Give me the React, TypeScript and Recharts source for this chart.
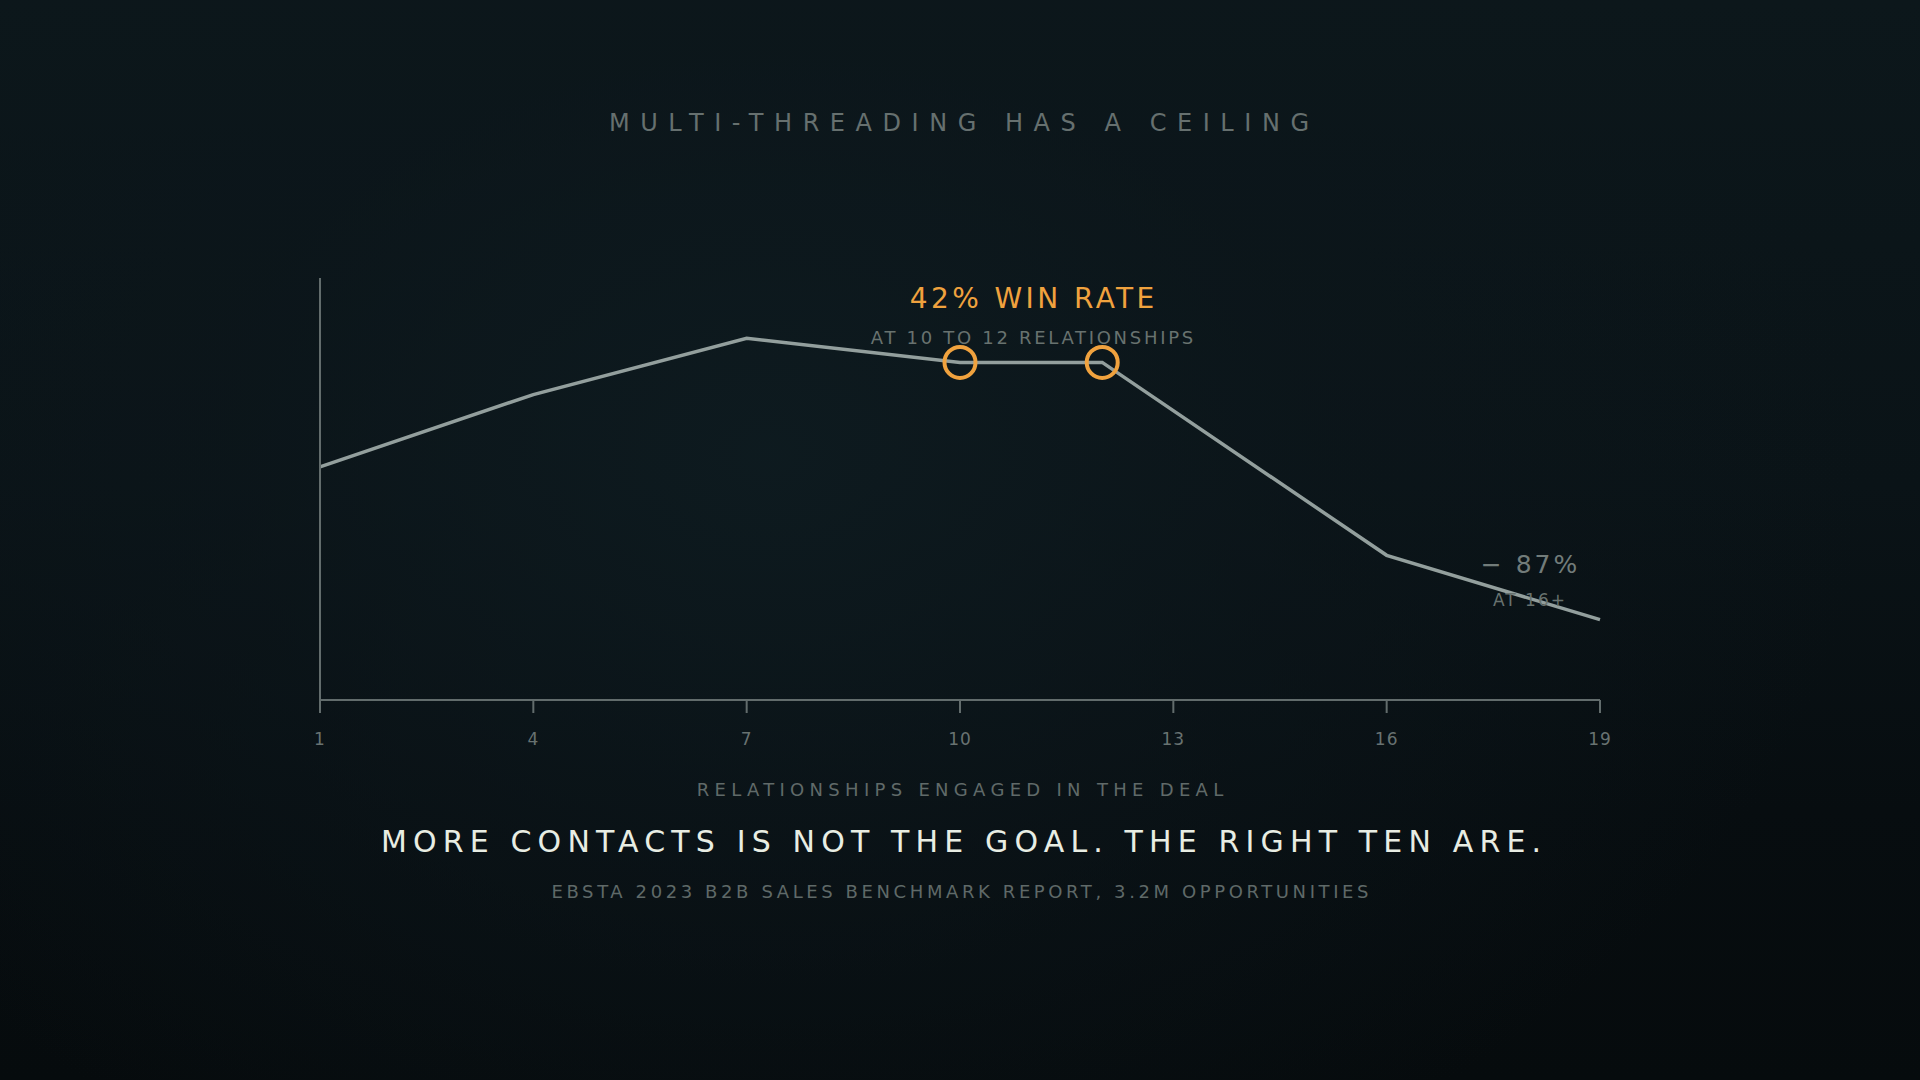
import React from "react";
import { LineChart, Line, XAxis, YAxis, ReferenceDot } from "recharts";

// win rate (%) by number of relationships engaged in the deal
const RELATIONSHIPS = [1, 4, 7, 10, 12, 16, 19];
const WIN_RATE = [29, 38, 45, 42, 42, 18, 10];
const X_TICKS = [1, 4, 7, 10, 13, 16, 19];
const HIGHLIGHT = [10, 12];

const W = 1920;
const H = 1080;
const FONT = "'DejaVu Sans', sans-serif";

const C = {
  line: "#939f9d",
  axis: "#626c6c",
  tick: "#687271",
  muted: "#68726f",
  orange: "#f0a23e",
  cream: "#e8ede3",
};

const data = RELATIONSHIPS.map((x, i) => ({ x, rate: WIN_RATE[i] }));

// centred text, nudged so trailing letter-spacing doesn't push it off-centre
function T({ x, y, size, spacing, fill, children }: any) {
  return (
    <text
      x={x + spacing / 2}
      y={y}
      textAnchor="middle"
      fontFamily={FONT}
      fontSize={size}
      letterSpacing={spacing}
      fill={fill}
    >
      {children}
    </text>
  );
}

export default function App() {
  return (
    <div
      style={{
        position: "absolute",
        left: 0,
        top: 0,
        width: W,
        height: H,
        overflow: "hidden",
        background:
          "radial-gradient(ellipse 1100px 800px at 40% 42%, rgba(14,27,32,0.9) 0%, rgba(12,22,27,0.6) 50%, rgba(8,14,17,0) 100%), linear-gradient(180deg, #0c171b 0%, #0a1317 45%, #070d10 75%, #060b0d 100%)",
      }}
    >
      <LineChart
        width={W}
        height={H}
        data={data}
        margin={{ top: 278, right: 320, bottom: 320, left: 318 }}
      >
        <XAxis
          dataKey="x"
          type="number"
          domain={[1, 19]}
          ticks={X_TICKS}
          height={60}
          stroke={C.axis}
          strokeWidth={2}
          tickSize={13}
          tickMargin={20}
          tick={{ fill: C.tick, fontSize: 17, fontFamily: FONT, letterSpacing: 1 }}
        />
        <YAxis
          width={2}
          domain={[0, 52.5]}
          tick={false}
          tickLine={false}
          axisLine={{ stroke: C.axis, strokeWidth: 2 }}
        />
        <Line
          type="linear"
          dataKey="rate"
          stroke={C.line}
          strokeWidth={3.5}
          dot={false}
          activeDot={false}
          isAnimationActive={false}
        />
        {HIGHLIGHT.map((h) => (
          <ReferenceDot
            key={h}
            x={h}
            y={WIN_RATE[RELATIONSHIPS.indexOf(h)]}
            r={15.5}
            fill="none"
            stroke={C.orange}
            strokeWidth={4}
          />
        ))}
      </LineChart>

      <svg
        width={W}
        height={H}
        style={{ position: "absolute", left: 0, top: 0, pointerEvents: "none" }}
      >
        <T x={959} y={131} size={24} spacing={10.55} fill="#66706f">
          MULTI-THREADING HAS A CEILING
        </T>

        <T x={1032} y={308} size={28} spacing={3.4} fill={C.orange}>
          42% WIN RATE
        </T>
        <T x={1032} y={344} size={18} spacing={2.7} fill={C.muted}>
          AT 10 TO 12 RELATIONSHIPS
        </T>

        <T x={1529} y={573} size={25} spacing={3} fill="#727c7a">
          − 87%
        </T>
        <T x={1529} y={606} size={17} spacing={2} fill={C.muted}>
          AT 16+
        </T>

        <T x={960} y={796} size={18} spacing={5.3} fill="#606a69">
          RELATIONSHIPS ENGAGED IN THE DEAL
        </T>
        <T x={961} y={852} size={30} spacing={6.15} fill={C.cream}>
          MORE CONTACTS IS NOT THE GOAL. THE RIGHT TEN ARE.
        </T>
        <T x={960} y={898} size={18} spacing={3.6} fill="#5f6968">
          EBSTA 2023 B2B SALES BENCHMARK REPORT, 3.2M OPPORTUNITIES
        </T>
      </svg>
    </div>
  );
}
